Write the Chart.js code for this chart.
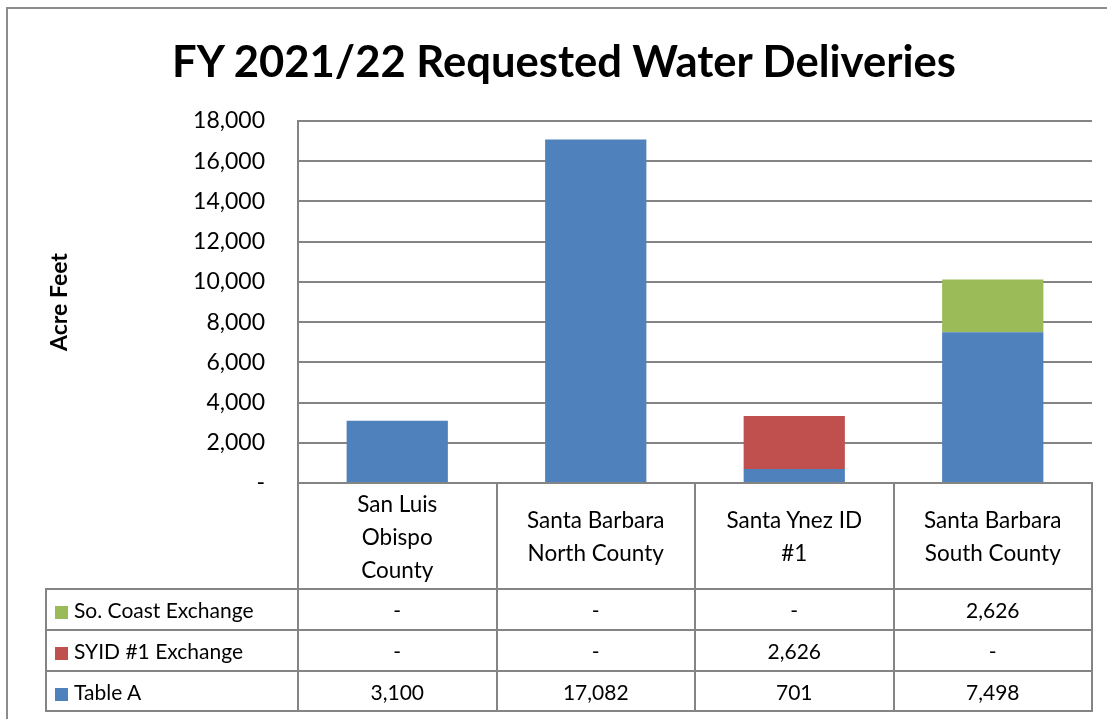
<!DOCTYPE html>
<html>
<head>
<meta charset="utf-8">
<script src="https://cdn.jsdelivr.net/npm/chart.js@4.4.0/dist/chart.umd.min.js"></script>
<style>
  html, body { margin:0; padding:0; background:#fff; }
  #wrap { position:relative; width:1107px; height:719px; overflow:hidden; font-family:Lato, "Open Sans", sans-serif; }
  #frame { position:absolute; left:6px; top:7px; width:1130px; height:740px; border:2px solid #8c8c8c; }
  #cbox { position:absolute; left:0; top:0; width:1107px; height:719px; }
  #title { position:absolute; left:164px; width:800px; top:34px; height:52px; line-height:52px;
           text-align:center; font-size:43.6px; font-weight:bold; color:#000; white-space:nowrap; }
  #dtable { position:absolute; border-collapse:collapse; table-layout:fixed; font-size:21px; color:#000; }
  #dtable td { border:2px solid #848484; text-align:center; vertical-align:middle; padding:0; line-height:33px; white-space:nowrap; }
  #dtable tr.hdr td { font-size:22.5px; }
  #dtable td.blank { border:none; }
  #dtable td.lg { text-align:left; padding-left:8px; }
  .sw { display:inline-block; width:13px; height:13px; margin-right:6px; vertical-align:-1px; }
</style>
</head>
<body>
<div id="wrap">
  <div id="frame"></div>
  <div id="cbox"><canvas id="c"></canvas></div>
  <div id="title"></div>
  <table id="dtable"></table>
</div>
<script>
/* ── Data ─────────────────────────────────────────────────── */
const TITLE        = "FY 2021/22 Requested Water Deliveries";
const CATEGORIES   = [["San Luis","Obispo","County"], ["Santa Barbara","North County"],
                      ["Santa Ynez ID","#1"], ["Santa Barbara","South County"]];
const TABLE_A      = [3100, 17082, 701, 7498];
const SYID_EXCH    = [0, 0, 2626, 0];
const SOCOAST_EXCH = [0, 0, 0, 2626];
const SERIES = [
  { name:"Table A",            data:TABLE_A,      color:"#4F81BD" },
  { name:"SYID #1 Exchange",   data:SYID_EXCH,    color:"#C0504D" },
  { name:"So. Coast Exchange", data:SOCOAST_EXCH, color:"#9BBB59" },
];
const Y_MIN = 0, Y_MAX = 18000, Y_STEP = 2000;

const fmt = v => v === 0 ? "-" : v.toLocaleString("en-US");
const FONT = "Lato, 'Open Sans', sans-serif";
const GRID = "#848484";

document.getElementById("title").textContent = TITLE;

/* ── Chart ────────────────────────────────────────────────── */
const chart = new Chart(document.getElementById("c"), {
  type: "bar",
  data: {
    labels: CATEGORIES.map(c => c.join(" ")),
    datasets: SERIES.map(s => ({
      label: s.name, data: s.data, backgroundColor: s.color,
      borderWidth: 0, categoryPercentage: 1.0, barPercentage: 0.51,
    })),
  },
  options: {
    responsive: true, maintainAspectRatio: false, animation: false,
    layout: { padding: { left:0, right:15, top:121, bottom:236 } },
    plugins: {
      legend: { display:false },
      tooltip: { enabled:false },
      title: { display:false },
    },
    scales: {
      x: { stacked: true, display: false },
      y: {
        stacked: true, min: Y_MIN, max: Y_MAX,
        border: { display: true, color: GRID, width: 2 },
        grid: { color: GRID, lineWidth: 2, drawTicks: false },
        ticks: { stepSize: Y_STEP, padding: 33, color: "#000",
                 font: { family: FONT, size: 23 }, callback: v => fmt(v) },
        title: { display: true, text: "Acre Feet", color: "#000",
                 font: { family: FONT, size: 23, weight: "bold" }, padding: { top: 46, bottom: 0 } },
        afterFit: s => { s.width = 298; },
      },
    },
  },
});

/* ── Data table under the plot ────────────────────────────── */
function buildTable() {
  const ca = chart.chartArea;
  const legendLeft = 46;
  const colW = (ca.right - ca.left) / CATEGORIES.length;
  const tbl = document.getElementById("dtable");
  tbl.style.left = (legendLeft - 1) + "px";
  tbl.style.top = (ca.bottom - 1) + "px";
  tbl.style.width = (ca.right - legendLeft + 2) + "px";

  let html = `<colgroup><col style="width:${ca.left - legendLeft}px">` +
    CATEGORIES.map(() => `<col style="width:${colW}px">`).join("") + `</colgroup>`;
  html += `<tr class="hdr" style="height:106px"><td class="blank"></td>` +
    CATEGORIES.map(c => `<td>${c.join("<br>")}</td>`).join("") + `</tr>`;
  [...SERIES].reverse().forEach((s, i) => {
    html += `<tr style="height:${i === 2 ? 40 : 41}px"><td class="lg"><span class="sw" style="background:${s.color}"></span>${s.name}</td>` +
      s.data.map(v => `<td>${fmt(v)}</td>`).join("") + `</tr>`;
  });
  tbl.innerHTML = html;
}
buildTable();
</script>
</body>
</html>
